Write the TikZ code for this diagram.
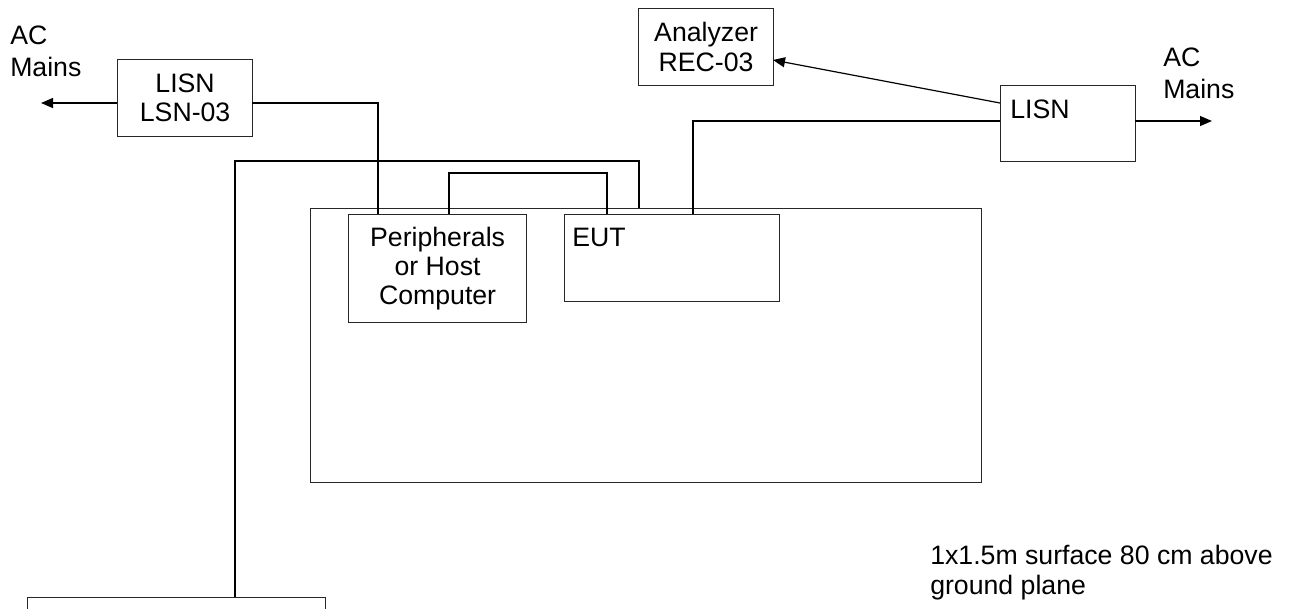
\documentclass[tikz,border=0pt]{standalone}
\usepackage{fontspec}
\setmainfont{Liberation Sans}
\usetikzlibrary{arrows.meta}
\begin{document}
\begin{tikzpicture}[x=0.75pt,y=-0.75pt,
  every node/.style={font=\fontsize{20pt}{22pt}\selectfont},
  box/.style={draw=black!85, line width=0.9pt, inner sep=0pt, anchor=north west},
  txt/.style={inner sep=0pt, anchor=north west, align=left},
  wide/.style={font=\fontsize{20pt}{24pt}\selectfont},
  wire/.style={draw=black, line width=0.9pt},
  arr/.style={wire, -{Triangle[length=9pt,width=7.5pt]}}]
\useasboundingbox (0,0) rectangle (1292,608);
\clip (0,0) rectangle (1292,608);
% boxes
\node[box, minimum width={135*0.75pt}, minimum height={77*0.75pt}, align=center] (lisnL) at (117,59) {LISN\\LSN-03};
\node[box, minimum width={135*0.75pt}, minimum height={77*0.75pt}, align=center] (anal) at (638,8) {Analyzer\\REC-03};
\node[box, minimum width={135*0.75pt}, minimum height={76*0.75pt}] (lisnR) at (1000,85) {};
\node[txt] (lisnRt) at (1010,100) {LISN};
\node[box, minimum width={671*0.75pt}, minimum height={274*0.75pt}] (table) at (310,208) {};
\node[box, minimum width={178*0.75pt}, minimum height={108*0.75pt}, align=center, fill=white] (periph) at (348,214) {Peripherals\\or Host\\Computer};
\node[box, minimum width={215*0.75pt}, minimum height={87*0.75pt}, fill=white] (eut) at (564,214) {};
\node[txt] (eutt) at (572,228) {EUT};
\node[box, minimum width={298*0.75pt}, minimum height={60*0.75pt}] (bot) at (27,597) {};
% text labels
\node[txt, wide] (acL) at (10,26) {AC\\Mains};
\node[txt, wide] (acR) at (1163,48) {AC\\Mains};
\node[txt, font=\fontsize{20pt}{22.5pt}\selectfont] (note) at (930,545) {1x1.5m surface 80 cm above\\ground plane};
% coordinates
\coordinate (acLend) at (41,103);
\coordinate (lL) at (117,103);
\coordinate (lLe) at (252,103);
\coordinate (acRend) at (1212,121);
\coordinate (p1) at (378,214);
\coordinate (b1) at (235,597);
\coordinate (t3) at (639,208);
\coordinate (pp) at (449,214);
\coordinate (ep) at (607,214);
\coordinate (lr1) at (1000,121);
\coordinate (lr1e) at (1135,121);
\coordinate (e2) at (693,214);
\coordinate (lr2) at (1000,103);
\coordinate (an1) at (773,60);
% connectors
\draw[arr] (lL) -- (acLend);
\draw[wire] (lLe) -| (p1);
\draw[wire] (b1) -- (235,161) -| (t3);
\draw[wire] (pp) -- (449,173) -| (ep);
\draw[wire] (lr1) -| (e2);
\draw[arr] (lr2) -- (an1);
\draw[arr] (lr1e) -- (acRend);
\end{tikzpicture}
\end{document}
